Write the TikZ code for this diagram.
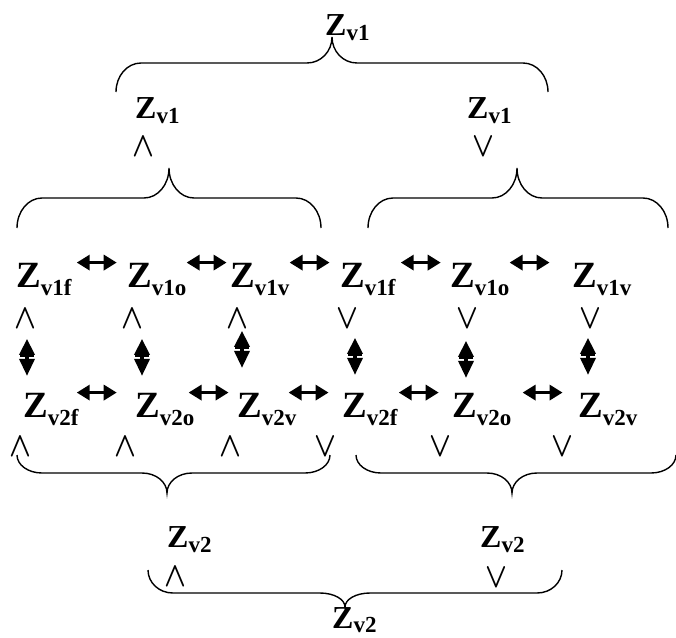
\documentclass[tikz,border=0pt]{standalone}
\usepackage{fontspec}
\setmainfont{Liberation Serif}
\usetikzlibrary{arrows.meta,calc}

% Z with a lowered subscript
\newcommand{\zsub}[2]{Z\raisebox{-#2}{\fontsize{23}{23}\selectfont #1}}
% logical and / or signs
\newcommand{\andsign}{\scalebox{1.15}[1.4]{\boldmath$\wedge$}}
\newcommand{\orsign}{\scalebox{1.15}[1.4]{\boldmath$\vee$}}

% curly brace: x1, x2, xtip, yend, ybar, ytip
\newcommand{\curly}[6]{%
    \pgfmathsetmacro\cu{0.55*(#5-#4)}%
    \pgfmathsetmacro\cb{0.55*(#5-#6)}%
    \draw[curlyline] (#1,#4) .. controls +(0,\cu) and +(-14,0) .. (#1+25,#5)
        -- (#3-25,#5) .. controls +(14,0) and +(0,\cb) .. (#3,#6)
        .. controls +(0,\cb) and +(-14,0) .. (#3+25,#5)
        -- (#2-25,#5) .. controls +(14,0) and +(0,\cu) .. (#2,#4);}

% vertical swap arrow under a relation sign: node, xshift, yshift
\newcommand{\vswap}[3]{%
    \draw[vswaparr] ([shift={(#2,#3)}]#1.south) -- ++(0,37);
    \draw[line width=1.6pt] ([shift={(#2-7,#3+17)}]#1.south) -- ++(14,0);}

\tikzset{
    rowlab/.style={inner sep=0pt, anchor=base west, font=\fontsize{37}{40}\selectfont\bfseries},
    lvllab/.style={inner sep=0pt, anchor=base west, font=\fontsize{32}{36}\selectfont\bfseries},
    rel/.style={inner sep=0pt, font=\fontsize{24}{26}\selectfont},
    swaparr/.style={{Triangle[length=13pt,width=15pt]}-{Triangle[length=13pt,width=15pt]}, line width=3.5pt},
    vswaparr/.style={{Triangle[length=16pt,width=15pt]}-{Triangle[length=17pt,width=15pt]}, line width=3.5pt},
    curlyline/.style={line width=1.4pt},
}

\begin{document}
\begin{tikzpicture}[x=1pt, y=-1pt]
    \useasboundingbox (0,0) rectangle (676,637);

    % top level
    \node[lvllab] (top1) at (325,35) {\zsub{v1}{5pt}};
    \curly{116}{548}{332}{92}{63}{37}
    \node[lvllab] (mid1L) at (135,118) {\zsub{v1}{5pt}};
    \node[lvllab] (mid1R) at (467,118) {\zsub{v1}{5pt}};
    \node[rel] (relTopL) at (143,147) {\andsign};
    \node[rel] (relTopR) at (483,147) {\orsign};
    \curly{17}{321}{169}{228}{198}{168}
    \curly{368}{668}{517}{228}{198}{168}

    % first row
    \node[rowlab] (f1L) at (16,287) {\zsub{v1f}{8pt}};
    \node[rowlab] (o1L) at (127,287) {\zsub{v1o}{8pt}};
    \node[rowlab] (v1L) at (230,287) {\zsub{v1v}{8pt}};
    \node[rowlab] (f1R) at (340,287) {\zsub{v1f}{8pt}};
    \node[rowlab] (o1R) at (450,287) {\zsub{v1o}{8pt}};
    \node[rowlab] (v1R) at (572,287) {\zsub{v1v}{8pt}};
    \draw[swaparr] ([xshift=5pt]f1L.north east) -- ++(40,0);
    \draw[swaparr] ([xshift=0pt]o1L.north east) -- ++(40,0);
    \draw[swaparr] ([xshift=0pt]v1L.north east) -- ++(40,0);
    \draw[swaparr] ([xshift=5pt]f1R.north east) -- ++(40,0);
    \draw[swaparr] ([xshift=0pt]o1R.north east) -- ++(40,0);

    \node[rel] (rel1a) at (25,319) {\andsign};
    \node[rel] (rel1b) at (132,319) {\andsign};
    \node[rel] (rel1c) at (237,319) {\andsign};
    \node[rel] (rel1d) at (347,319) {\orsign};
    \node[rel] (rel1e) at (467,319) {\orsign};
    \node[rel] (rel1f) at (590,319) {\orsign};
    \vswap{rel1a}{2}{10}
    \vswap{rel1b}{10}{10}
    \vswap{rel1c}{5}{2}
    \vswap{rel1d}{8}{9}
    \vswap{rel1e}{-1}{12}
    \vswap{rel1f}{-2}{9}

    % second row
    \node[rowlab] (f2L) at (23,417) {\zsub{v2f}{8pt}};
    \node[rowlab] (o2L) at (135,417) {\zsub{v2o}{8pt}};
    \node[rowlab] (v2L) at (237,417) {\zsub{v2v}{8pt}};
    \node[rowlab] (f2R) at (342,417) {\zsub{v2f}{8pt}};
    \node[rowlab] (o2R) at (452,417) {\zsub{v2o}{8pt}};
    \node[rowlab] (v2R) at (578,417) {\zsub{v2v}{8pt}};
    \draw[swaparr] ([xshift=-2pt]f2L.north east) -- ++(40,0);
    \draw[swaparr] ([xshift=-6pt]o2L.north east) -- ++(40,0);
    \draw[swaparr] ([xshift=-8pt]v2L.north east) -- ++(40,0);
    \draw[swaparr] ([xshift=1pt]f2R.north east) -- ++(40,0);
    \draw[swaparr] ([xshift=11pt]o2R.north east) -- ++(40,0);

    \node[rel] (rel2a) at (20,447) {\andsign};
    \node[rel] (rel2b) at (125,447) {\andsign};
    \node[rel] (rel2c) at (230,447) {\andsign};
    \node[rel] (rel2d) at (325,447) {\orsign};
    \node[rel] (rel2e) at (440,447) {\orsign};
    \node[rel] (rel2f) at (562,447) {\orsign};

    % bottom level
    \curly{17}{330}{167}{455}{473}{493}
    \curly{356}{676}{512}{455}{473}{493}
    \node[lvllab] (mid2L) at (167,547) {\zsub{v2}{5pt}};
    \node[lvllab] (mid2R) at (480,547) {\zsub{v2}{5pt}};
    \node[rel] (relBotL) at (175,577) {\andsign};
    \node[rel] (relBotR) at (496,578) {\orsign};
    \curly{148}{562}{345}{570}{593}{607}
    \node[lvllab] (bot2) at (332,628) {\zsub{v2}{4pt}};
\end{tikzpicture}
\end{document}
